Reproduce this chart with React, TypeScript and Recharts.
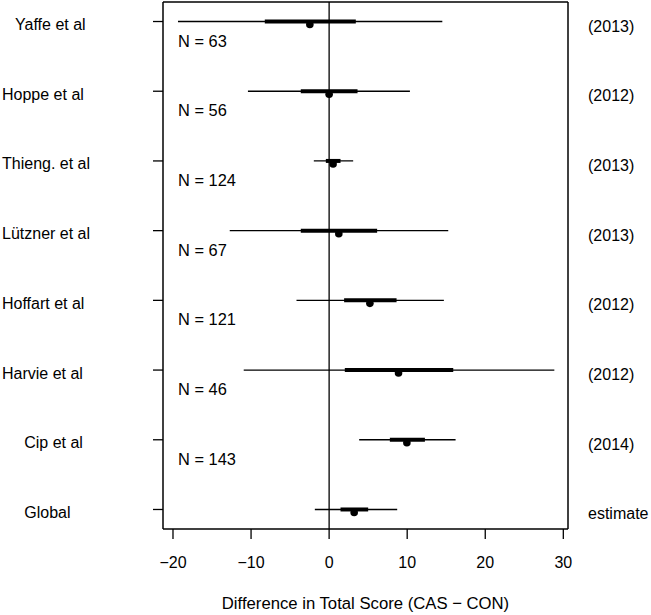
import React from 'react';
import { ScatterChart, Scatter, XAxis, YAxis, ReferenceLine } from 'recharts';

// study labels (leading spaces keep the original indent of a few names)
const studies = ['   Yaffe et al', 'Hoppe et al', 'Thieng. et al', 'Lützner et al', 'Hoffart et al', 'Harvie et al', '     Cip et al', '     Global'];
const years = ['(2013)', '(2012)', '(2013)', '(2013)', '(2012)', '(2012)', '(2014)', 'estimate'];
const sampleSizes = [63, 56, 124, 67, 121, 46, 143, null];

// difference in total score: point estimate, inner and outer intervals
const estimates = [-2.47, 0.0, 0.51, 1.24, 5.22, 8.89, 9.96, 3.21];
const innerLow = [-8.24, -3.63, -0.42, -3.63, 1.92, 2.01, 7.78, 1.46];
const innerHigh = [3.42, 3.64, 1.46, 6.15, 8.64, 15.9, 12.27, 5.0];
const outerLow = [-19.36, -10.4, -1.96, -12.73, -4.18, -10.94, 3.85, -1.83];
const outerHigh = [14.5, 10.35, 3.08, 15.26, 14.7, 28.85, 16.2, 8.72];

const xTicks = [-20, -10, 0, 10, 20, 30];
const X_TITLE = 'Difference in Total Score (CAS \u2212 CON)';

const rows = studies.map((_, i) => i + 1);

const W = 651;
const H = 615;
const LEFT_W = 163;
const RIGHT_W = 83;
const BOTTOM_H = 86;
const TOP_H = 2;
const PLOT_LEFT = LEFT_W;
const PLOT_RIGHT = W - RIGHT_W;

const X_DOMAIN: [number, number] = [-21.28, 30.6];
const Y_DOMAIN: [number, number] = [0.72, 8.28];
const FONT = '"Liberation Sans", Arial, sans-serif';
const FS = 16;
const AXIS = { stroke: '#000', strokeWidth: 1.5 };

const thinSegs = rows.map((r, i) => [
  { x: outerLow[i], y: r },
  { x: outerHigh[i], y: r },
]);
const thickSegs = rows.map((r, i) => [
  { x: innerLow[i], y: r },
  { x: innerHigh[i], y: r },
]);
const points = rows.map((r, i) => ({ x: estimates[i], y: r }));

const LeftTick = (props: any) => {
  const { y, payload } = props;
  const i = payload.value - 1;
  const n = sampleSizes[i];
  return (
    <g>
      <text x={2} y={y + 8.5} fontSize={FS} fontFamily={FONT} fill="#000" style={{ whiteSpace: 'pre' }}>
        {studies[i]}
      </text>
      {n != null && (
        <text x={PLOT_LEFT + 15} y={y + 25} fontSize={FS + 0.4} fontFamily={FONT} fill="#000">
          {`N = ${n}`}
        </text>
      )}
    </g>
  );
};

const RightTick = (props: any) => {
  const { y, payload } = props;
  return (
    <text x={PLOT_RIGHT + 20} y={y + 10} fontSize={FS} fontFamily={FONT} fill="#000">
      {years[payload.value - 1]}
    </text>
  );
};

const Dot = (p: any) => <circle cx={p.cx} cy={p.cy + 3} r={3.8} fill="#000" />;
const NoShape = () => <g />;

const App = () => {
  return (
    <div style={{ position: 'absolute', left: 0, top: 0, background: '#fff' }}>
      <ScatterChart width={W} height={H} margin={{ top: 0, right: 0, bottom: 0, left: 0 }}>
        <XAxis
          type="number"
          dataKey="x"
          domain={X_DOMAIN}
          allowDataOverflow
          ticks={xTicks}
          height={BOTTOM_H}
          tickSize={10}
          tickMargin={18}
          axisLine={AXIS}
          tickLine={{ stroke: '#000', strokeWidth: 1.3 }}
          tick={{ fill: '#000', fontSize: FS, fontFamily: FONT }}
          tickFormatter={(v: number) => (v < 0 ? `\u2212${Math.abs(v)}` : `${v}`)}
          label={{ value: X_TITLE, position: 'insideBottom', offset: 6, fill: '#000', fontSize: 16.7, fontFamily: FONT }}
        />
        <XAxis
          xAxisId="top"
          orientation="top"
          type="number"
          domain={X_DOMAIN}
          allowDataOverflow
          height={TOP_H}
          tick={false}
          tickLine={false}
          axisLine={AXIS}
        />
        <YAxis
          type="number"
          dataKey="y"
          domain={Y_DOMAIN}
          allowDataOverflow
          reversed
          ticks={rows}
          width={LEFT_W}
          tickSize={10}
          axisLine={AXIS}
          tickLine={{ stroke: '#000', strokeWidth: 1.3 }}
          tick={<LeftTick />}
        />
        <YAxis
          yAxisId="right"
          orientation="right"
          type="number"
          domain={Y_DOMAIN}
          allowDataOverflow
          reversed
          ticks={rows}
          width={RIGHT_W}
          tickLine={false}
          axisLine={AXIS}
          tick={<RightTick />}
        />
        <ReferenceLine x={0} stroke="#000" strokeWidth={1.3} />
        {thinSegs.map((seg, i) => (
          <Scatter
            key={`thin-${i}`}
            data={seg}
            line={{ stroke: '#000', strokeWidth: 1.3 }}
            shape={NoShape}
            isAnimationActive={false}
          />
        ))}
        {thickSegs.map((seg, i) => (
          <Scatter
            key={`thick-${i}`}
            data={seg}
            line={{ stroke: '#000', strokeWidth: 4 }}
            shape={NoShape}
            isAnimationActive={false}
          />
        ))}
        <Scatter data={points} shape={Dot} fill="#000" isAnimationActive={false} />
      </ScatterChart>
    </div>
  );
};

export default App;
